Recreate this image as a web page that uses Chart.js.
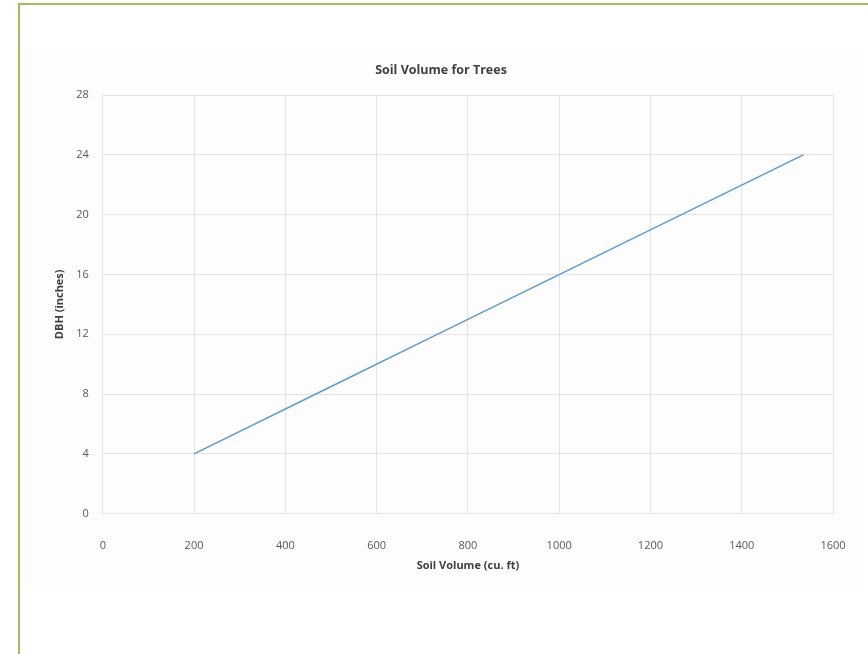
<!DOCTYPE html>
<html>
<head>
<meta charset="utf-8">
<script src="https://cdn.jsdelivr.net/npm/chart.js@4"></script>
<style>
  html, body { margin: 0; padding: 0; background: #fff; }
  #frame { position: absolute; left: 18px; top: 3px; width: 880px; height: 700px;
           border-left: 2px solid #9bc25a; border-top: 2px solid #9bc25a; }
  #bg { position: absolute; left: 30px; top: 48px; width: 832px; height: 539px; background: #fdfdfd; }
  #wrap { position: absolute; left: 0; top: 0; width: 868px; height: 654px; }
</style>
</head>
<body>
<div id="frame"></div>
<div id="bg"></div>
<div id="wrap"><canvas id="myChart" width="868" height="654"></canvas></div>
<script>
// soil volume (cu. ft) vs DBH (inches)
var soilVolume = [200, 467, 734, 1001, 1268, 1535];
var dbh = [4, 8, 12, 16, 20, 24];
var xTicks = [0, 200, 400, 600, 800, 1000, 1200, 1400, 1600];
var yTicks = [0, 4, 8, 12, 16, 20, 24, 28];

var points = [];
for (var i = 0; i < soilVolume.length; i++) {
  points.push({x: soilVolume[i], y: dbh[i]});
}

var font = "'Open Sans', 'Liberation Sans', sans-serif";

var ctx = document.getElementById('myChart').getContext('2d');
var chart = new Chart(ctx, {
  type: 'scatter',
  data: {
    datasets: [{
      label: 'DBH',
      data: points,
      showLine: true,
      borderColor: '#5b9bd5',
      backgroundColor: '#5b9bd5',
      borderWidth: 1.5,
      pointRadius: 0
    }]
  },
  options: {
    responsive: false,
    animation: false,
    layout: { padding: { left: 49, right: 35, top: 63, bottom: 78 } },
    plugins: {
      legend: { display: false },
      tooltip: { enabled: false },
      title: {
        display: true,
        text: 'Soil Volume for Trees',
        color: '#404040',
        font: { family: font, size: 12.5, weight: 'bold' },
        padding: { top: 0, bottom: 17 }
      }
    },
    scales: {
      x: {
        type: 'linear',
        min: 0, max: 1600,
        afterBuildTicks: function(axis) { axis.ticks = xTicks.map(function(v) { return {value: v}; }); },
        afterFit: function(axis) { axis.paddingRight = 0; },
        grid: { color: '#e3e3e3', drawTicks: false },
        border: { color: '#e3e3e3' },
        ticks: { color: '#595959', font: { family: font, size: 11 }, padding: 26,
                 callback: function(v) { return String(v); } },
        title: { display: true, text: 'Soil Volume (cu. ft)', color: '#404040',
                 font: { family: font, size: 11, weight: 'bold' }, padding: { top: -20 } }
      },
      y: {
        min: 0, max: 28,
        afterBuildTicks: function(axis) { axis.ticks = yTicks.map(function(v) { return {value: v}; }); },
        grid: { color: '#e3e3e3', drawTicks: false },
        border: { color: '#e3e3e3' },
        ticks: { color: '#595959', font: { family: font, size: 11 }, padding: 14 },
        title: { display: true, text: 'DBH (inches)', color: '#404040',
                 font: { family: font, size: 11, weight: 'bold' }, padding: { bottom: -4 } }
      }
    }
  }
});
</script>
</body>
</html>
